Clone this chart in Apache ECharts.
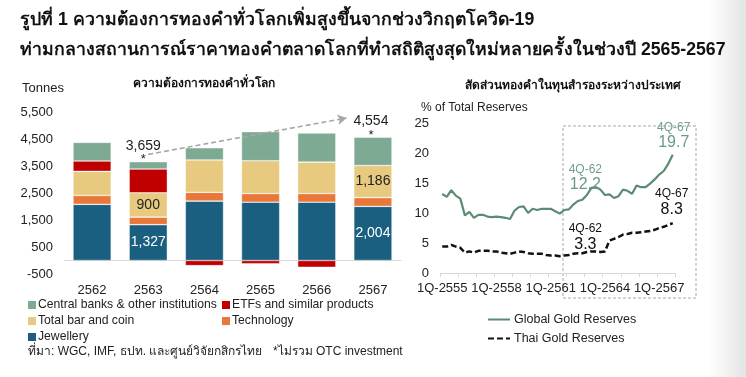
<!DOCTYPE html>
<html>
<head>
<meta charset="utf-8">
<script src="https://cdn.jsdelivr.net/npm/echarts@6/dist/echarts.min.js"></script>
<style>
  html, body { margin: 0; padding: 0; background: #fff; }
  #chart { width: 746px; height: 377px; }
</style>
</head>
<body>
<div id="chart"></div>
<script>
// ---- left: gold demand (tonnes) ----
const years = ['2562', '2563', '2564', '2565', '2566', '2567'];
const jewellery = [2080, 1327, 2200, 2160, 2160, 2004];
const technology = [330, 280, 325, 320, 320, 326];
const barCoin = [890, 900, 1200, 1215, 1165, 1186];
const etfs = [385, 880, -190, -120, -250, 3];
const centralBanks = [690, 272, 450, 1080, 1075, 1045];
const totals = [null, 3659, null, null, null, 4554];
const labelledYears = [1, 5];
const demandTicks = { min: -500, max: 5500, interval: 1000 };

// ---- right: gold share of reserves (%) ----
const quarters = [];
for (let y = 2555; y <= 2567; y++) {
  for (let q = 1; q <= 4; q++) quarters.push(q + 'Q-' + y);
}
const globalShare = [
  13.2, 12.7, 13.8, 12.9, 12.4, 9.6, 10.2, 9.2, 9.7, 9.7, 9.4, 9.3, 9.4,
  9.3, 9.2, 9.0, 10.4, 11.0, 11.1, 10.0, 10.7, 10.5, 10.7, 10.7, 10.7, 10.3,
  9.9, 10.5, 10.6, 11.4, 12.0, 12.2, 13.0, 14.2, 14.3, 13.9, 13.0, 13.1, 12.5,
  12.8, 13.9, 13.7, 13.2, 14.6, 14.3, 14.3, 14.9, 15.6, 16.4, 17.0, 18.2, 19.7
];
const thaiShare = [
  4.4, 4.4, 4.7, 4.4, 4.2, 3.4, 3.6, 3.4, 3.7, 3.7, 3.7, 3.6, 3.6,
  3.4, 3.3, 3.2, 3.4, 3.6, 3.5, 3.3, 3.2, 3.2, 3.2, 3.0, 2.9, 2.9,
  2.8, 2.9, 3.0, 3.2, 3.3, 3.3, 3.5, 3.6, 3.6, 3.5, 3.6, 5.4, 5.7,
  6.0, 6.4, 6.5, 6.7, 6.7, 6.8, 6.9, 7.0, 7.2, 7.5, 7.7, 8.0, 8.3
];
const calloutIdx = [31, 51];
const calloutNames = ['4Q-62', '4Q-67'];

const FONT = '"Liberation Sans", Arial, sans-serif';
const GREEN = '#5b8b73';

const chart = echarts.init(document.getElementById('chart'), null, { renderer: 'canvas' });

const fmt = v => v.toLocaleString('en-US');
const onlyLabelled = p => labelledYears.includes(p.dataIndex) ? fmt(p.value) : '';

function barSeries(name, data, color, labelColor) {
  return {
    name, type: 'bar', stack: 'demand', data,
    xAxisIndex: 0, yAxisIndex: 0,
    barWidth: '68%',
    itemStyle: { color, borderColor: 'rgba(255,255,255,0.7)', borderWidth: 0.6 },
    label: labelColor
      ? { show: true, position: 'inside', color: labelColor, fontSize: 14, fontFamily: FONT, formatter: onlyLabelled }
      : { show: false },
    emphasis: { disabled: true },
    animation: false
  };
}

const cbSeries = barSeries('Central banks & other institutions', centralBanks, '#7eaa94', null);
cbSeries.markPoint = {
  symbol: 'rect', symbolSize: 0, silent: true,
  data: totals.map((t, i) => t == null ? null : {
    coord: [i, t], value: t,
    label: { offset: [i === 1 ? -5 : -2, 0] }
  }).filter(Boolean),
  label: {
    show: true, position: 'top', distance: -4,
    formatter: p => '{v|' + fmt(p.value) + '}\n{s|*}',
    rich: {
      v: { fontSize: 14, fontFamily: FONT, color: '#222', lineHeight: 16, align: 'center' },
      s: { fontSize: 13, fontFamily: FONT, color: '#222', lineHeight: 12, align: 'center' }
    }
  }
};

function callouts(values, nameColor, valueColor, offsets) {
  return {
    symbol: 'rect', symbolSize: 0, silent: true,
    data: calloutIdx.map((idx, k) => ({
      coord: [idx, values[idx]], name: calloutNames[k], value: values[idx].toFixed(1),
      label: { offset: offsets[k] }
    })),
    label: {
      show: true, position: 'inside',
      formatter: p => '{q|' + p.name + '}\n{v|' + p.value + '}',
      rich: {
        q: { fontSize: 12, fontFamily: FONT, color: nameColor, lineHeight: 14, align: 'center' },
        v: { fontSize: 16, fontFamily: FONT, color: valueColor, lineHeight: 17, align: 'center' }
      }
    }
  };
}

const boxLegend = {
  orient: 'vertical', padding: 0, top: 299, itemWidth: 8, itemHeight: 8, itemGap: 4, icon: 'rect',
  itemStyle: { borderWidth: 0 },
  textStyle: { fontSize: 12.2, color: '#222', fontFamily: FONT, padding: [0, 0, 0, -3] },
  selectedMode: false
};

const option = {
  backgroundColor: '#fff',
  animation: false,
  textStyle: { fontFamily: FONT },
  grid: [
    { left: 64, top: 112, width: 337, height: 162, containLabel: false, outerBoundsMode: 'none' },
    { left: 440, top: 123, width: 235, height: 150, containLabel: false, outerBoundsMode: 'none' }
  ],
  legend: [
    Object.assign({}, boxLegend, { left: 28, data: ['Central banks & other institutions', 'Total bar and coin', 'Jewellery'] }),
    Object.assign({}, boxLegend, { left: 222, data: ['ETFs and similar products', 'Technology'] }),
    {
      orient: 'vertical', padding: 0, left: 487, top: 313, itemWidth: 22, itemHeight: 10, itemGap: 6,
      data: ['Global Gold Reserves', 'Thai Gold Reserves'],
      itemStyle: { opacity: 0 },
      textStyle: { fontSize: 12.5, color: '#222', fontFamily: FONT, padding: [0, 0, 0, -1] },
      selectedMode: false
    }
  ],
  xAxis: [
    {
      type: 'category', gridIndex: 0, data: years,
      axisLine: { show: true, onZero: true, lineStyle: { color: '#d9d9d9', width: 1 } },
      axisTick: { show: false },
      axisLabel: { color: '#222', fontSize: 13, margin: 10 }
    },
    {
      type: 'category', gridIndex: 1, data: quarters, boundaryGap: true,
      axisLine: { show: true, lineStyle: { color: '#d9d9d9', width: 1 } },
      axisTick: { show: true, interval: 3, length: 4, lineStyle: { color: '#d9d9d9' } },
      axisLabel: { color: '#222', fontSize: 13, margin: 9, interval: 11 }
    }
  ],
  yAxis: [
    {
      type: 'value', gridIndex: 0, ...demandTicks,
      axisLine: { show: false }, axisTick: { show: false }, splitLine: { show: false },
      axisLabel: { color: '#222', fontSize: 13, margin: 11, formatter: fmt }
    },
    {
      type: 'value', gridIndex: 1, min: 0, max: 25, interval: 5,
      axisLine: { show: false }, axisTick: { show: false }, splitLine: { show: false },
      axisLabel: { color: '#222', fontSize: 13, margin: 11 }
    }
  ],
  series: [
    barSeries('Jewellery', jewellery, '#1a5f80', '#fff'),
    barSeries('Technology', technology, '#e8773a', null),
    barSeries('Total bar and coin', barCoin, '#e7c97f', '#222'),
    barSeries('ETFs and similar products', etfs, '#c00000', null),
    cbSeries,
    {
      name: 'Global Gold Reserves', type: 'line', xAxisIndex: 1, yAxisIndex: 1,
      data: globalShare, symbol: 'none', smooth: false,
      lineStyle: { color: GREEN, width: 2.2 }, itemStyle: { color: GREEN },
      markPoint: callouts(globalShare, '#6f9f89', '#6a9a84', [[3, -22], [1, -19]])
    },
    {
      name: 'Thai Gold Reserves', type: 'line', xAxisIndex: 1, yAxisIndex: 1,
      data: thaiShare, symbol: 'none', smooth: false,
      lineStyle: { color: '#111', width: 2.5, type: [6, 3] }, itemStyle: { color: '#111' },
      markPoint: callouts(thaiShare, '#111', '#111', [[3, -16], [-1, -21]])
    }
  ],
  graphic: [
    {
      type: 'rect', z: -10, silent: true,
      shape: { x: 708, y: 0, width: 38, height: 377 },
      style: {
        fill: new echarts.graphic.LinearGradient(0, 0, 1, 0, [
          { offset: 0, color: 'rgba(228,228,228,0)' },
          { offset: 1, color: '#e4e4e4' }
        ])
      }
    },
    { type: 'text', left: 20, top: 11, style: { text: 'รูปที่ 1 ความต้องการทองคำทั่วโลกเพิ่มสูงขึ้นจากช่วงวิกฤตโควิด-19', font: 'bold 17.7px ' + FONT, fill: '#111' } },
    { type: 'text', left: 20, top: 41, style: { text: 'ท่ามกลางสถานการณ์ราคาทองคำตลาดโลกที่ทำสถิติสูงสุดใหม่หลายครั้งในช่วงปี 2565-2567', font: 'bold 17.7px ' + FONT, fill: '#111' } },
    { type: 'text', x: 204, y: 84, style: { text: 'ความต้องการทองคำทั่วโลก', font: 'bold 12px ' + FONT, fill: '#111', align: 'center', verticalAlign: 'middle' } },
    { type: 'text', x: 22, y: 88, style: { text: 'Tonnes', font: '13px ' + FONT, fill: '#222', verticalAlign: 'middle' } },
    { type: 'text', x: 573, y: 86, style: { text: 'สัดส่วนทองคำในทุนสำรองระหว่างประเทศ', font: 'bold 12px ' + FONT, fill: '#111', align: 'center', verticalAlign: 'middle' } },
    { type: 'text', x: 421, y: 108, style: { text: '% of Total Reserves', font: '12px ' + FONT, fill: '#222', verticalAlign: 'middle' } },
    {
      type: 'rect', silent: true,
      shape: { x: 563, y: 126, width: 133, height: 172 },
      style: { fill: 'none', stroke: '#a8a8a8', lineWidth: 1, lineDash: [3, 2] }
    },
    { type: 'text', x: 28, y: 352, style: { text: 'ที่มา: WGC, IMF, ธปท. และศูนย์วิจัยกสิกรไทย', font: '12px ' + FONT, fill: '#222', verticalAlign: 'middle' } },
    { type: 'text', x: 273, y: 352, style: { text: '*ไม่รวม OTC investment', font: '12px ' + FONT, fill: '#222', verticalAlign: 'middle' } }
  ]
};

chart.setOption(option);

// dashed trend arrow from the 2563 total toward the 2567 total (placed through the axes)
const from = chart.convertToPixel({ gridIndex: 0 }, [1, 3930]);
const a = chart.convertToPixel({ gridIndex: 0 }, [4, 5277]);
const b = chart.convertToPixel({ gridIndex: 0 }, [5, 5277]);
const toX = a[0] + (b[0] - a[0]) * 0.53;
chart.setOption({
  series: [{}, {}, {}, {}, {
    markLine: {
      silent: true, symbol: ['none', 'arrow'], symbolSize: [8, 9],
      label: { show: false },
      lineStyle: { color: '#a6a6a6', type: [5, 3], width: 1.6 },
      data: [[{ x: from[0], y: from[1] }, { x: toX, y: a[1] }]]
    }
  }]
});
</script>
</body>
</html>
